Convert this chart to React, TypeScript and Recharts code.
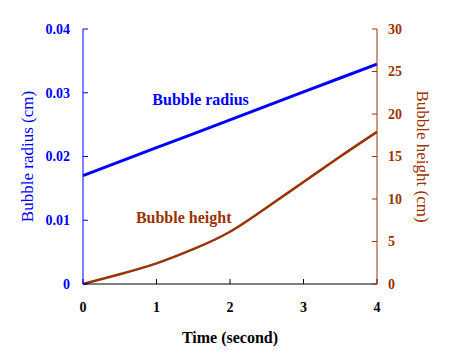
import { LineChart, Line, XAxis, YAxis, ReferenceDot, Label } from 'recharts';

const times = [0, 0.5, 1, 1.5, 2, 2.5, 3, 3.5, 4];
const radius = [0.017, 0.01919, 0.02138, 0.02356, 0.02575, 0.02794, 0.03013, 0.03231, 0.0345];
const height = [0, 1.15, 2.43, 4.1, 6.15, 9.0, 12.0, 15.0, 17.9];

const xTicks = [0, 1, 2, 3, 4];
const leftTicks = [0, 0.01, 0.02, 0.03, 0.04];
const rightTicks = [0, 5, 10, 15, 20, 25, 30];

const data = times.map((t, i) => ({ t, radius: radius[i], height: height[i] }));

const BLUE = '#0000ff';
const BROWN = '#993300';
const FONT = '"Liberation Serif", "Times New Roman", serif';

// vertical axis title, centred beside the plot area
const sideTitle = (text: string, color: string, side: 'left' | 'right') => (props: any) => {
  const vb = props.viewBox || {};
  const cy = vb.y + vb.height / 2;
  const cx = side === 'left' ? 27 : 422;
  return (
    <text
      x={cx}
      y={cy}
      transform={`rotate(${side === 'left' ? -90 : 90} ${cx} ${cy})`}
      textAnchor="middle"
      dominantBaseline="central"
      fill={color}
      fontSize={17}
      fontFamily={FONT}
    >
      {text}
    </text>
  );
};

export default function App() {
  return (
    <div style={{ position: 'absolute', left: 0, top: 0, width: 450, height: 360, background: '#fff' }}>
      <LineChart width={450} height={360} data={data} margin={{ top: 29, right: 0, left: 0, bottom: 0 }}>
        <XAxis
          dataKey="t"
          type="number"
          domain={[0, 4]}
          ticks={xTicks}
          height={76}
          stroke="#000"
          tickSize={-5}
          tickMargin={23}
          tick={{ fill: '#000', fontSize: 14, fontWeight: 'bold', fontFamily: FONT }}
          label={{
            value: 'Time (second)',
            position: 'insideBottom',
            offset: 17,
            fill: '#000',
            fontSize: 16,
            fontWeight: 'bold',
            fontFamily: FONT,
          }}
        />
        <XAxis xAxisId="top" dataKey="t" type="number" domain={[0, 4]} orientation="top" height={0} tick={false} tickLine={false} stroke="#999" />
        <YAxis
          yAxisId="left"
          domain={[0, 0.04]}
          ticks={leftTicks}
          width={83}
          stroke={BLUE}
          tickSize={-5}
          tickMargin={18}
          tickFormatter={(v: number) => String(v)}
          tick={{ fill: BLUE, fontSize: 14, fontWeight: 'bold', fontFamily: FONT }}
        >
          <Label content={sideTitle('Bubble radius (cm)', BLUE, 'left')} />
        </YAxis>
        <YAxis
          yAxisId="right"
          orientation="right"
          domain={[0, 30]}
          ticks={rightTicks}
          width={73}
          stroke={BROWN}
          tickSize={-5}
          tickMargin={16}
          tick={{ fill: BROWN, fontSize: 14, fontWeight: 'bold', fontFamily: FONT }}
        >
          <Label content={sideTitle('Bubble height (cm)', BROWN, 'right')} />
        </YAxis>
        <Line yAxisId="left" dataKey="radius" stroke={BLUE} strokeWidth={3} dot={false} type="linear" isAnimationActive={false} />
        <Line yAxisId="right" dataKey="height" stroke={BROWN} strokeWidth={2.5} dot={false} type="natural" isAnimationActive={false} />
        <ReferenceDot
          yAxisId="left"
          x={1.6}
          y={0.0289}
          r={0}
          label={{ value: 'Bubble radius', position: 'center', fill: BLUE, fontSize: 16, fontWeight: 'bold', fontFamily: FONT }}
        />
        <ReferenceDot
          yAxisId="right"
          x={1.37}
          y={7.9}
          r={0}
          label={{ value: 'Bubble height', position: 'center', fill: BROWN, fontSize: 16, fontWeight: 'bold', fontFamily: FONT }}
        />
      </LineChart>
    </div>
  );
}
